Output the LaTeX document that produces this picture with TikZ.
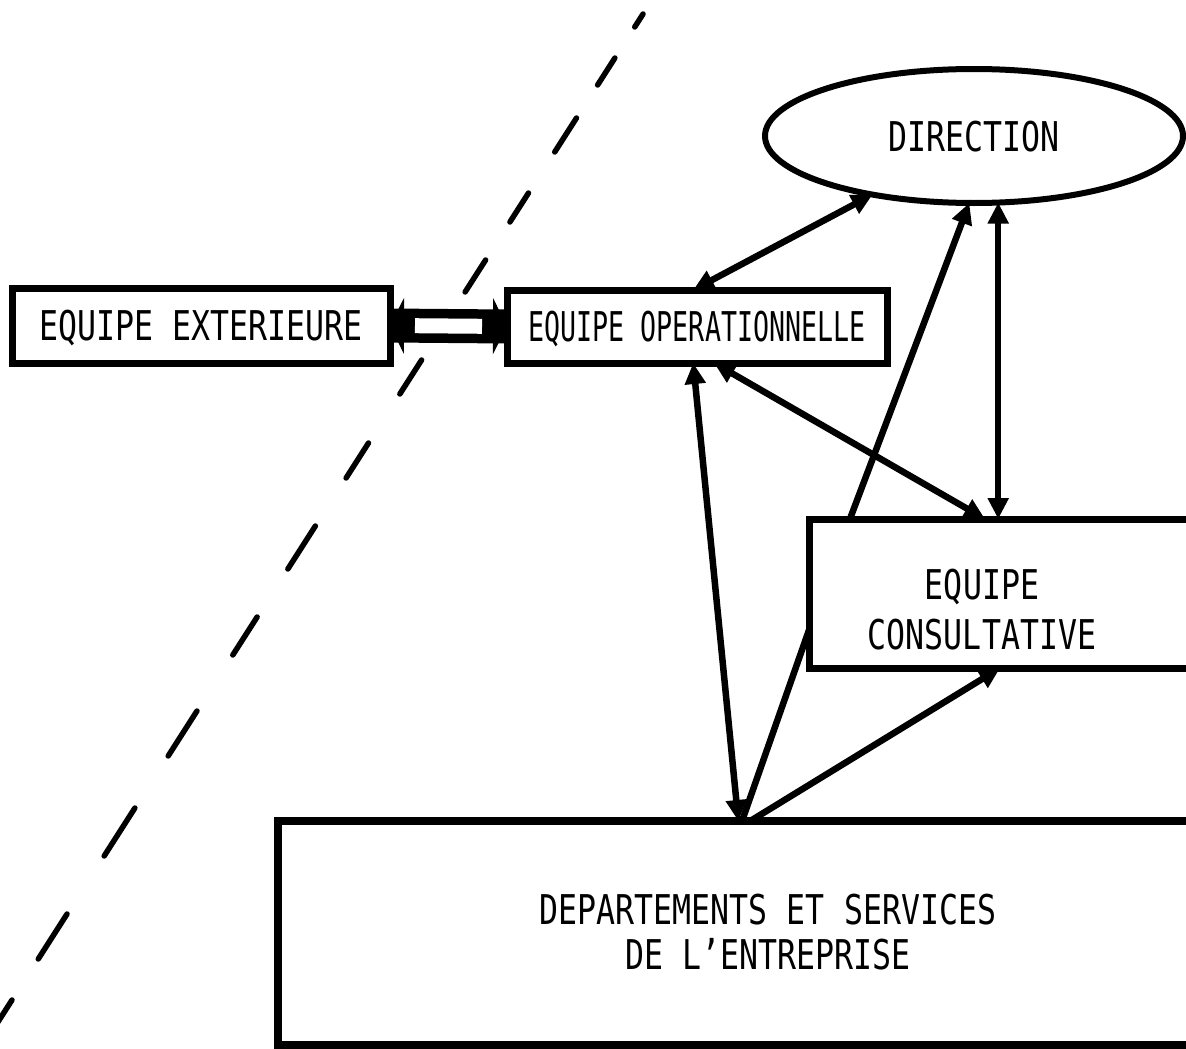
\documentclass[tikz,border=0pt]{standalone}
\usepackage{fontspec}
\newfontfamily\lblfont{DejaVu Sans Mono}[FakeStretch=0.77]
\newfontfamily\lblnarrow{DejaVu Sans Mono}[FakeStretch=0.65]
\usetikzlibrary{arrows.meta,calc,shapes.geometric}
\begin{document}
\begin{tikzpicture}[x=1pt,y=-1pt,
  box/.style={draw, rectangle, line width=7pt, inner sep=0pt, outer sep=0pt},
  lbl/.style={font=\lblfont\fontsize{41}{50}\selectfont, inner sep=0pt},
  oneline/.style={text height=30pt, text depth=0pt},
  link/.style={line width=6.5pt, {Triangle[length=21pt,width=20pt]}-{Triangle[length=21pt,width=20pt]}},
  linkto/.style={line width=6.5pt, -{Triangle[length=21pt,width=20pt]}},
  plain/.style={line width=6.5pt},
  sepdash/.style={line width=5.5pt, line cap=round}]

\useasboundingbox (0,0) rectangle (1186,1049);
\clip (0,0) rectangle (1186,1049);

% slanted separation line, drawn as hand-spaced dashes
\coordinate (sepA) at (652,0);
\coordinate (sepB) at (-20,1050);
\foreach \a/\b in {14/27, 58/85, 118/152, 193/222, 260/292, 360/394, 443/478,
                   526/569, 617/655, 711/756, 808/856, 914/959, 1000/1050}
  \draw[sepdash] ($(sepA)!\a/1050!(sepB)$) -- ($(sepA)!\b/1050!(sepB)$);

% units
\node[box, lbl, oneline, minimum width=378pt, minimum height=75pt] (ext) at (201,325.5) {EQUIPE EXTERIEURE};
\node[box, oneline, font=\lblnarrow\fontsize{41}{50}\selectfont, minimum width=380pt, minimum height=73pt] (op) at (697,326.5) {EQUIPE OPERATIONNELLE};
\node[draw, ellipse, line width=6pt, inner sep=0pt, outer sep=0pt, lbl, oneline,
      minimum width=418pt, minimum height=134pt] (dir) at (974,136) {DIRECTION};
\node[box, minimum width=386pt, minimum height=149pt] (cons) at (1002,593.5) {};
\node[lbl, align=center] (consText) at (982,610) {EQUIPE\\CONSULTATIVE};
\node[box, line width=8pt, minimum width=917pt, minimum height=224pt] (dept) at (736.5,933) {};
\node[lbl, align=center, font=\lblfont\fontsize{41}{45}\selectfont] (deptText) at (768,932)
  {DEPARTEMENTS ET SERVICES\\DE L’ENTREPRISE};

% hollow two-way link between the outside team and the operational team
\draw[line width=34pt] (ext.east) -- (op.west);
\draw[line width=1pt, {Triangle[length=14pt,width=56pt]}-{Triangle[length=14pt,width=56pt]}] (ext.east) -- (op.west);
\draw[white, line width=15pt, shorten <=25pt, shorten >=25pt] (ext.east) -- (op.west);

% links
\draw[link] ($(op.north west)!0.49!(op.north east)$) -- (dir.210);
\draw[link] ($(op.south west)!0.545!(op.south east)$) -- ($(cons.north west)!0.456!(cons.north east)$);
\draw[link] ($(op.south west)!0.49!(op.south east)$) -- ($(dept.north west)!0.502!(dept.north east)$);
\draw[linkto] ($(cons.north west)!0.106!(cons.north east)$) -- (dir.266);
\draw[link] (dir.290) -- (dir.290 |- cons.north);
\draw[linkto] ($(dept.north west)!0.515!(dept.north east)$) -- ($(cons.south west)!0.495!(cons.south east)$);
\draw[plain] ($(dept.north west)!0.506!(dept.north east)$) -- ($(cons.north west)!0.745!(cons.south west)$);
\end{tikzpicture}
\end{document}
